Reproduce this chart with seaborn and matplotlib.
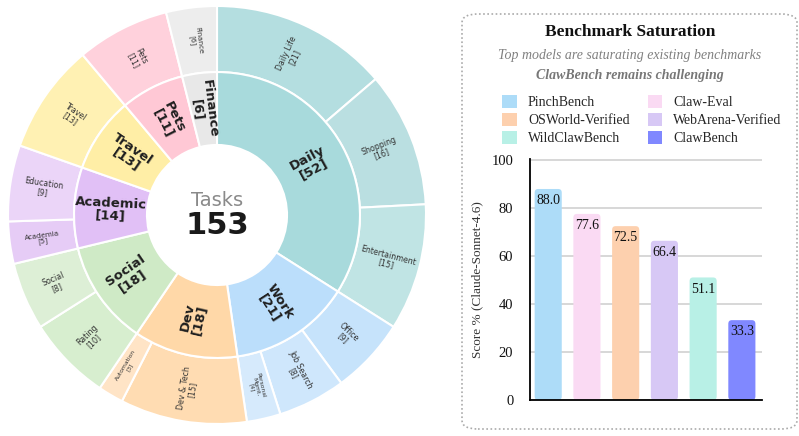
import matplotlib
matplotlib.use("Agg")
import matplotlib.pyplot as plt
from matplotlib.patches import FancyBboxPatch, Patch
import numpy as np
import pandas as pd
import seaborn as sns

# ---- sunburst data ----
groups = ["Daily", "Work", "Dev", "Social", "Academic", "Travel", "Pets", "Finance"]
group_counts = [52, 21, 18, 18, 14, 13, 11, 6]
group_colors = ["#A8DADC", "#BBDEFB", "#FFD8A8", "#CFEAC6", "#E1C0F6",
                "#FFEEA6", "#FFC8D5", "#E8E8E8"]

sub_labels = ["Daily Life", "Shopping", "Entertainment",
              "Office", "Job Search", "Personal\nMgmt.",
              "Dev & Tech", "Automation",
              "Rating", "Social",
              "Academia", "Education",
              "Travel", "Pets", "Finance"]
sub_counts = [21, 16, 15, 9, 8, 4, 15, 3, 10, 8, 5, 9, 13, 11, 6]
sub_colors = ["#B4DEE0", "#BADFE1", "#C0E4E4",
              "#C6E3FB", "#CFE7FC", "#D6EAFC",
              "#FFDCB2", "#FFE4C6",
              "#D7EECF", "#DDEFD6",
              "#E6CCF6", "#EBD5F8",
              "#FFF1B3", "#FFD1DC", "#EDEDED"]

# ---- benchmark data ----
bench = ["PinchBench", "Claw-Eval", "OSWorld-Verified", "WebArena-Verified",
         "WildClawBench", "ClawBench"]
scores = [88.0, 77.6, 72.5, 66.4, 51.1, 33.3]
bar_colors = ["#ADDCF8", "#FADAF3", "#FDD0AE", "#D7C8F5", "#B8F0E6", "#8088FF"]
legend_order = ["PinchBench", "OSWorld-Verified", "WildClawBench",
                "Claw-Eval", "WebArena-Verified", "ClawBench"]

sns.set_theme(style="white")
plt.rcParams["font.family"] = ["DejaVu Sans"]
serif = "Liberation Serif"

fig = plt.figure(figsize=(7.99, 4.36), dpi=100)


def label_rot(t1, t2):
    mid = (t1 + t2) / 2.0
    rot = (mid + 180) % 360 - 180
    if rot > 90:
        rot -= 180
    elif rot < -90:
        rot += 180
    return mid, rot


# ---- sunburst ----
ax = fig.add_axes([8 / 799, 1 - 424 / 436, 418 / 799, 418 / 436])
outer_w = 0.316
inner_r = 1 - outer_w
inner_w = inner_r - 0.335

ow, _ = ax.pie(sub_counts, radius=1, startangle=90, counterclock=False,
               colors=sub_colors,
               wedgeprops=dict(width=outer_w, edgecolor="white", linewidth=1.5))
iw, _ = ax.pie(group_counts, radius=inner_r, startangle=90, counterclock=False,
               colors=group_colors,
               wedgeprops=dict(width=inner_w, edgecolor="white", linewidth=1.5))
ax.set_xlim(-1, 1)
ax.set_ylim(-1, 1)
ax.set_aspect("equal")
ax.axis("off")

for w, name, n in zip(iw, groups, group_counts):
    mid, rot = label_rot(w.theta1, w.theta2)
    r = inner_r - inner_w / 2
    x, y = r * np.cos(np.radians(mid)), r * np.sin(np.radians(mid))
    ax.text(x, y, f"{name}\n[{n}]", ha="center", va="center", rotation=rot,
            rotation_mode="anchor", multialignment="center", fontsize=9.5,
            fontweight="bold", color="#1f1f1f", linespacing=0.95)

for w, name, n in zip(ow, sub_labels, sub_counts):
    mid, rot = label_rot(w.theta1, w.theta2)
    r = 1 - outer_w / 2
    x, y = r * np.cos(np.radians(mid)), r * np.sin(np.radians(mid))
    fs = 5.7 if n >= 7 else (5.1 if n >= 5 else 4.3)
    ax.text(x, y, f"{name}\n[{n}]", ha="center", va="center", rotation=rot,
            rotation_mode="anchor", multialignment="center", fontsize=fs,
            color="#333333", linespacing=0.95)

ax.text(0, 0.07, "Tasks", ha="center", va="center", fontsize=14,
        color="#8a8a8a")
ax.text(0, -0.05, "153", ha="center", va="center", fontsize=22,
        fontweight="bold", color="#1a1a1a")

# ---- right panel box ----
box = FancyBboxPatch((462 / 799, 1 - 429 / 436), 335 / 799, 415 / 436,
                     boxstyle="round,pad=0,rounding_size=0.02",
                     transform=fig.transFigure, fc="none", ec="#aaaaaa",
                     lw=1.2, ls=(0, (1, 1.5)), zorder=-1)
fig.patches.append(box)

cx = 630 / 799
fig.text(cx, 1 - 32 / 436, "Benchmark Saturation", ha="center", va="center",
         fontsize=12.5, fontweight="bold", family=serif, color="#111111")
fig.text(cx, 1 - 56 / 436, "Top models are saturating existing benchmarks",
         ha="center", va="center", fontsize=10, style="italic",
         family=serif, color="#808080")
fig.text(cx, 1 - 75 / 436, "ClawBench remains challenging",
         ha="center", va="center", fontsize=10, style="italic",
         fontweight="bold", family=serif, color="#777777")

color_map = dict(zip(bench, bar_colors))
handles = [Patch(facecolor=color_map[b], edgecolor="none", label=b)
           for b in legend_order]
fig.legend(handles=handles, ncol=2, loc="upper center",
           bbox_to_anchor=(642 / 799, 1 - 88 / 436), frameon=False,
           prop={"family": serif, "size": 10}, handlelength=1.05,
           handleheight=1.05, handletextpad=0.8, columnspacing=1.3,
           labelspacing=0.27, borderpad=0)

# ---- bar chart ----
bax = fig.add_axes([530 / 799, 1 - 400 / 436, 232 / 799, 241 / 436])
df = pd.DataFrame({"bench": bench, "score": scores})
sns.barplot(data=df, x="bench", y="score", hue="bench", palette=color_map,
            width=0.7, saturation=1, legend=False, ax=bax)

for p in list(bax.patches):
    fb = FancyBboxPatch((p.get_x(), p.get_y()), p.get_width(), p.get_height(),
                        boxstyle="round,pad=0,rounding_size=0.09",
                        mutation_aspect=17, fc=p.get_facecolor(), ec="none",
                        zorder=2)
    p.set_visible(False)
    bax.add_patch(fb)

for i, s in enumerate(scores):
    bax.text(i, s - 2.2, f"{s:.1f}", ha="center", va="top", fontsize=10,
             family=serif, color="#111111", zorder=3)

bax.set_ylim(0, 100.5)
bax.set_xlim(-0.47, 5.52)
bax.set_yticks([0, 20, 40, 60, 80, 100])
bax.set_xticks([])
bax.set_xlabel("")
bax.set_ylabel("Score % (Claude-Sonnet-4.6)", family=serif, fontsize=9.5,
               color="#333333", labelpad=6)
for lab in bax.get_yticklabels():
    lab.set_family(serif)
    lab.set_fontsize(10.5)
    lab.set_color("#111111")
bax.tick_params(axis="y", length=0, pad=12)
bax.yaxis.grid(True, color="#d4d4d4", lw=1.3)
bax.set_axisbelow(True)
for side in ["top", "right"]:
    bax.spines[side].set_visible(False)
for side in ["left", "bottom"]:
    bax.spines[side].set_color("black")
    bax.spines[side].set_linewidth(1.3)
bax.set_facecolor("none")

fig.savefig("out.png", dpi=100)
